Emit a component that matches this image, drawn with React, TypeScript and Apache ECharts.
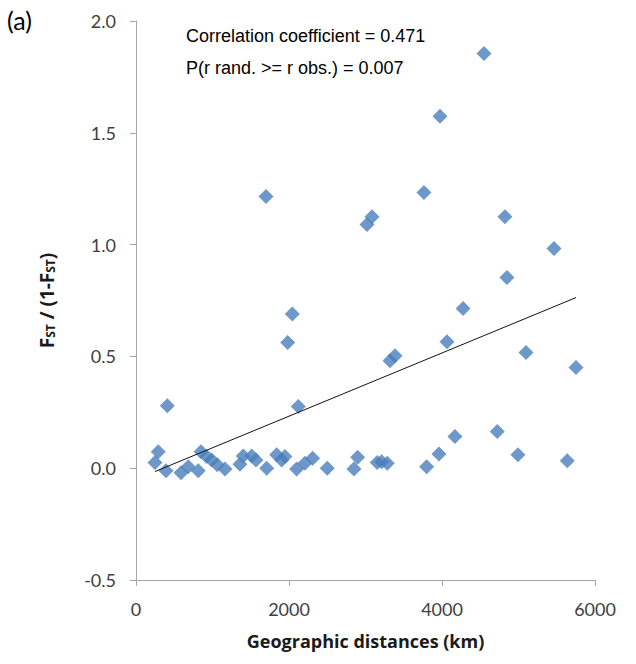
import React, { useEffect, useRef } from "react";
import * as echarts from "echarts";

const distKm = [248, 291, 392, 409, 588, 683, 814, 849, 924, 989, 1062, 1163, 1359, 1402, 1512, 1568, 1699, 1708, 1839, 1904, 1947, 1983, 2043, 2100, 2122, 2208, 2309, 2500, 2849, 2897, 3020, 3085, 3153, 3211, 3284, 3320, 3386, 3764, 3799, 3960, 3974, 4065, 4169, 4275, 4549, 4722, 4823, 4849, 4993, 5098, 5464, 5637, 5752];
const fstRatio = [0.025, 0.074, -0.011, 0.279, -0.02, 0.007, -0.011, 0.074, 0.052, 0.037, 0.015, -0.004, 0.018, 0.055, 0.055, 0.037, 1.215, 0.0, 0.06, 0.037, 0.052, 0.562, 0.69, -0.004, 0.276, 0.022, 0.045, 0.0, -0.004, 0.049, 1.09, 1.125, 0.025, 0.029, 0.022, 0.481, 0.503, 1.233, 0.007, 0.063, 1.574, 0.566, 0.142, 0.714, 1.855, 0.164, 1.125, 0.853, 0.06, 0.517, 0.982, 0.033, 0.45];
const trendX = [248, 5752];
const trendY = [-0.015, 0.763];
const xTicks = [0, 2000, 4000, 6000];
const yTicks = [-0.5, 0, 0.5, 1.0, 1.5, 2.0];
const annotations = ["Correlation coefficient = 0.471", "P(r rand. >= r obs.) = 0.007"];

export default function App() {
  const ref = useRef<HTMLDivElement>(null);
  useEffect(() => {
    if (!ref.current) return;
    const chart = echarts.init(ref.current, null, { renderer: "svg" });
    const labelFont = "Lato, 'Open Sans', sans-serif";
    const annFont = "'Liberation Sans', Arial, sans-serif";
    chart.setOption({
      animation: false,
      backgroundColor: "#ffffff",
      grid: { left: 136, right: 41, top: 21, bottom: 84 },
      xAxis: {
        type: "value",
        min: xTicks[0],
        max: xTicks[xTicks.length - 1],
        interval: 2000,
        name: "Geographic distances (km)",
        nameLocation: "middle",
        nameGap: 52,
        nameTextStyle: { fontFamily: "'Open Sans', sans-serif", fontWeight: "bold", fontSize: 18, color: "#1a1a1a" },
        axisLine: { show: true, onZero: false, lineStyle: { color: "#a6a6a6", width: 1 } },
        axisTick: { show: true, inside: false, length: 6, lineStyle: { color: "#a6a6a6" } },
        axisLabel: { fontFamily: labelFont, fontSize: 18, color: "#404040", margin: 20, formatter: (v: number) => String(v) },
        splitLine: { show: false },
      },
      yAxis: {
        type: "value",
        min: yTicks[0],
        max: yTicks[yTicks.length - 1],
        interval: 0.5,
        name: "{a|F}{s|ST}{a| / (1-F}{s|ST}{a|)}",
        nameLocation: "middle",
        nameRotate: 90,
        nameGap: 80,
        nameTextStyle: {
          rich: {
            a: { fontFamily: "'Open Sans', sans-serif", fontWeight: "bold", fontSize: 19, color: "#1a1a1a", verticalAlign: "bottom", lineHeight: 26 },
            s: { fontFamily: "'Open Sans', sans-serif", fontWeight: "bold", fontSize: 12, color: "#1a1a1a", verticalAlign: "bottom", lineHeight: 20 },
          },
        },
        axisLine: { show: true, onZero: false, lineStyle: { color: "#a6a6a6", width: 1 } },
        axisTick: { show: true, inside: false, length: 6, lineStyle: { color: "#a6a6a6" } },
        axisLabel: { fontFamily: labelFont, fontSize: 18, color: "#404040", margin: 20, formatter: (v: number) => v.toFixed(1) },
        splitLine: { show: false },
      },
      graphic: [
        { type: "text", left: 7, top: 7, style: { text: "(a)", fontFamily: labelFont, fontSize: 25, fill: "#000" } },
        { type: "text", left: 186, top: 27, style: { text: annotations[0], fontFamily: annFont, fontSize: 18, fill: "#000" } },
        { type: "text", left: 186, top: 59, style: { text: annotations[1], fontFamily: annFont, fontSize: 18, fill: "#000" } },
      ],
      series: [
        {
          type: "scatter",
          symbol: "diamond",
          symbolSize: 15,
          itemStyle: { color: "#4a7ebb" },
          data: distKm.map((d, i) => [d, fstRatio[i]]),
          z: 2,
        },
        {
          type: "line",
          symbol: "none",
          lineStyle: { color: "#111", width: 1 },
          data: trendX.map((d, i) => [d, trendY[i]]),
          z: 3,
        },
      ],
    });
    return () => chart.dispose();
  }, []);
  return <div ref={ref} style={{ position: "fixed", left: 0, top: 0, width: 636, height: 664 }} />;
}
